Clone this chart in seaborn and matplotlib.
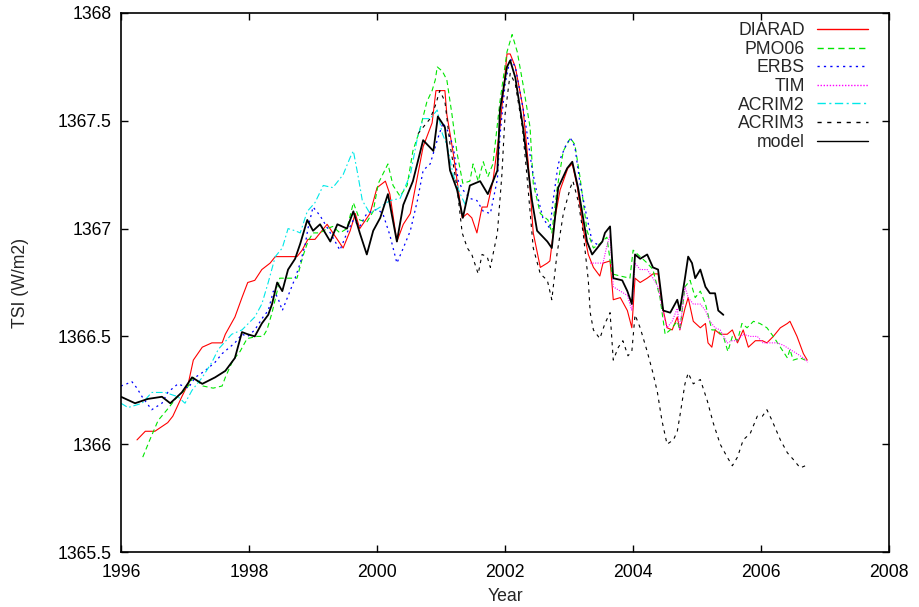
import numpy as np
import pandas as pd
import matplotlib
matplotlib.use('Agg')
import matplotlib.pyplot as plt
import seaborn as sns
from matplotlib.ticker import FuncFormatter, MultipleLocator

# DIARAD
diarad_year = [1996.25, 1996.38, 1996.53, 1996.73, 1996.81, 1996.95, 1997.05, 1997.13, 1997.27, 1997.42,
               1997.58, 1997.63, 1997.78, 1997.89, 1997.98, 1998.09, 1998.20, 1998.33, 1998.41, 1998.75,
               1998.83, 1998.92, 1999.03, 1999.22, 1999.31, 1999.47, 1999.58, 1999.66, 1999.73, 1999.89,
               2000.00, 2000.13, 2000.20, 2000.31, 2000.41, 2000.52, 2000.63, 2000.72, 2000.86, 2000.92,
               2001.06, 2001.09, 2001.19, 2001.27, 2001.33, 2001.41, 2001.48, 2001.56, 2001.64, 2001.72,
               2001.81, 2001.92, 2002.03, 2002.08, 2002.16, 2002.28, 2002.36, 2002.44, 2002.55, 2002.66,
               2002.70, 2002.78, 2002.86, 2002.98, 2003.05, 2003.13, 2003.22, 2003.30, 2003.38, 2003.48,
               2003.53, 2003.64, 2003.69, 2003.80, 2003.91, 2003.98, 2004.03, 2004.11, 2004.22, 2004.31,
               2004.39, 2004.45, 2004.53, 2004.61, 2004.69, 2004.73, 2004.81, 2004.86, 2004.94, 2005.05,
               2005.13, 2005.17, 2005.23, 2005.28, 2005.36, 2005.47, 2005.55, 2005.63, 2005.72, 2005.80,
               2005.91, 2006.02, 2006.09, 2006.19, 2006.30, 2006.41, 2006.45, 2006.56, 2006.66, 2006.72]
diarad_tsi = [1366.02, 1366.06, 1366.06, 1366.10, 1366.13, 1366.22, 1366.28, 1366.39, 1366.45, 1366.47,
              1366.47, 1366.51, 1366.59, 1366.68, 1366.75, 1366.76, 1366.81, 1366.84, 1366.87, 1366.87,
              1366.90, 1366.95, 1366.95, 1367.02, 1366.98, 1366.91, 1366.99, 1367.07, 1367.00, 1367.07,
              1367.19, 1367.22, 1367.16, 1366.94, 1367.02, 1367.07, 1367.24, 1367.38, 1367.49, 1367.64,
              1367.64, 1367.53, 1367.35, 1367.18, 1367.05, 1367.07, 1367.05, 1366.98, 1367.10, 1367.10,
              1367.22, 1367.47, 1367.81, 1367.81, 1367.75, 1367.56, 1367.31, 1366.98, 1366.82, 1366.84,
              1366.85, 1367.05, 1367.18, 1367.28, 1367.30, 1367.19, 1367.00, 1366.88, 1366.82, 1366.78,
              1366.84, 1366.85, 1366.67, 1366.68, 1366.62, 1366.54, 1366.77, 1366.75, 1366.77, 1366.79,
              1366.79, 1366.65, 1366.54, 1366.53, 1366.59, 1366.53, 1366.63, 1366.68, 1366.57, 1366.54,
              1366.56, 1366.47, 1366.45, 1366.53, 1366.51, 1366.51, 1366.53, 1366.47, 1366.53, 1366.45,
              1366.48, 1366.48, 1366.47, 1366.50, 1366.54, 1366.56, 1366.57, 1366.50, 1366.42, 1366.39]

# PMO06
pmo_year = [1996.34, 1996.45, 1996.58, 1996.72, 1996.88, 1997.03, 1997.13, 1997.28, 1997.44, 1997.58,
            1997.63, 1997.75, 1997.86, 1997.97, 1998.13, 1998.22, 1998.28, 1998.36, 1998.44, 1998.48,
            1998.75, 1998.84, 1998.92, 1999.00, 1999.11, 1999.22, 1999.31, 1999.42, 1999.53, 1999.63,
            1999.73, 1999.84, 1999.94, 2000.02, 2000.17, 2000.25, 2000.36, 2000.47, 2000.56, 2000.67,
            2000.78, 2000.86, 2000.91, 2000.94, 2001.02, 2001.09, 2001.17, 2001.25, 2001.34, 2001.45,
            2001.50, 2001.58, 2001.66, 2001.73, 2001.81, 2001.92, 2002.03, 2002.11, 2002.19, 2002.28,
            2002.39, 2002.44, 2002.55, 2002.67, 2002.73, 2002.81, 2002.91, 2003.02, 2003.09, 2003.17,
            2003.28, 2003.38, 2003.48, 2003.59, 2003.67, 2003.80, 2003.95, 2004.00, 2004.11, 2004.22,
            2004.31, 2004.42, 2004.50, 2004.58, 2004.69, 2004.73, 2004.81, 2004.89, 2004.97, 2005.05,
            2005.13, 2005.23, 2005.31, 2005.41, 2005.48, 2005.55, 2005.63, 2005.70, 2005.78, 2005.88,
            2005.98, 2006.09, 2006.19, 2006.30, 2006.41, 2006.45, 2006.50, 2006.61, 2006.69]
pmo_tsi = [1365.94, 1366.02, 1366.11, 1366.16, 1366.22, 1366.26, 1366.31, 1366.27, 1366.26, 1366.27,
           1366.31, 1366.39, 1366.43, 1366.49, 1366.50, 1366.50, 1366.53, 1366.61, 1366.71, 1366.77,
           1366.77, 1366.87, 1366.94, 1366.98, 1366.98, 1367.00, 1367.01, 1366.98, 1367.00, 1367.12,
           1367.04, 1367.03, 1367.08, 1367.21, 1367.30, 1367.20, 1367.15, 1367.20, 1367.36, 1367.46,
           1367.59, 1367.64, 1367.69, 1367.75, 1367.73, 1367.69, 1367.53, 1367.35, 1367.21, 1367.22,
           1367.30, 1367.22, 1367.31, 1367.24, 1367.30, 1367.59, 1367.82, 1367.90, 1367.82, 1367.67,
           1367.47, 1367.21, 1367.07, 1367.04, 1366.98, 1367.18, 1367.36, 1367.42, 1367.39, 1367.24,
           1366.99, 1366.91, 1366.93, 1366.96, 1366.79, 1366.78, 1366.77, 1366.90, 1366.87, 1366.84,
           1366.81, 1366.68, 1366.51, 1366.53, 1366.57, 1366.53, 1366.73, 1366.76, 1366.68, 1366.71,
           1366.65, 1366.53, 1366.53, 1366.50, 1366.43, 1366.50, 1366.48, 1366.56, 1366.54, 1366.57,
           1366.56, 1366.54, 1366.50, 1366.45, 1366.40, 1366.44, 1366.39, 1366.40, 1366.39]

# ERBS
erbs_year = [1996.00, 1996.09, 1996.17, 1996.25, 1996.33, 1996.48, 1996.64, 1996.73, 1996.89, 1997.05,
             1997.16, 1997.31, 1997.47, 1997.58, 1997.78, 1997.89, 1997.98, 1998.09, 1998.22, 1998.30,
             1998.38, 1998.45, 1998.52, 1998.56, 1998.72, 1998.80, 1998.88, 1998.92, 1999.00, 1999.11,
             1999.27, 1999.42, 1999.53, 1999.63, 1999.73, 1999.84, 2000.00, 2000.09, 2000.20, 2000.31,
             2000.41, 2000.52, 2000.63, 2000.72, 2000.83, 2000.94, 2001.03, 2001.11, 2001.19, 2001.27,
             2001.34, 2001.45, 2001.56, 2001.66, 2001.77, 2001.88, 2001.92, 2002.00, 2002.08, 2002.16,
             2002.23, 2002.31, 2002.42, 2002.50, 2002.59, 2002.70, 2002.75, 2002.83, 2002.94, 2003.02,
             2003.09, 2003.17, 2003.28, 2003.36, 2003.48]
erbs_tsi = [1366.27, 1366.28, 1366.29, 1366.26, 1366.22, 1366.16, 1366.19, 1366.24, 1366.28, 1366.26,
            1366.31, 1366.34, 1366.38, 1366.42, 1366.47, 1366.51, 1366.50, 1366.53, 1366.59, 1366.62,
            1366.71, 1366.68, 1366.62, 1366.65, 1366.77, 1366.84, 1366.93, 1367.00, 1367.10, 1367.06,
            1366.98, 1366.90, 1366.98, 1367.04, 1367.01, 1367.07, 1367.09, 1367.07, 1366.97, 1366.84,
            1366.91, 1366.99, 1367.13, 1367.27, 1367.30, 1367.41, 1367.49, 1367.45, 1367.38, 1367.22,
            1367.18, 1367.14, 1367.13, 1367.08, 1367.07, 1367.23, 1367.43, 1367.67, 1367.79, 1367.75,
            1367.64, 1367.51, 1367.28, 1367.16, 1367.05, 1367.00, 1367.13, 1367.30, 1367.38, 1367.42,
            1367.38, 1367.21, 1367.05, 1366.94, 1366.92]

# TIM
tim_year = [2003.33, 2003.44, 2003.53, 2003.59, 2003.64, 2003.69, 2003.80, 2003.91, 2003.98, 2004.03,
            2004.11, 2004.22, 2004.31, 2004.39, 2004.47, 2004.53, 2004.61, 2004.69, 2004.73, 2004.81,
            2004.86, 2004.94, 2005.05, 2005.13, 2005.20, 2005.28, 2005.36, 2005.47, 2005.55, 2005.63,
            2005.72, 2005.83, 2005.94, 2006.03, 2006.14, 2006.25, 2006.34, 2006.45, 2006.56, 2006.66,
            2006.73]
tim_tsi = [1366.84, 1366.84, 1366.84, 1366.92, 1366.97, 1366.73, 1366.71, 1366.69, 1366.62, 1366.84,
           1366.81, 1366.81, 1366.77, 1366.73, 1366.61, 1366.54, 1366.57, 1366.63, 1366.53, 1366.73,
           1366.68, 1366.65, 1366.65, 1366.62, 1366.57, 1366.54, 1366.53, 1366.47, 1366.48, 1366.48,
           1366.51, 1366.50, 1366.50, 1366.47, 1366.47, 1366.47, 1366.46, 1366.44, 1366.42, 1366.40,
           1366.38]

# ACRIM2
acrim2_year = [1996.00, 1996.11, 1996.22, 1996.33, 1996.48, 1996.69, 1996.89, 1997.00, 1997.11, 1997.27,
               1997.42, 1997.52, 1997.73, 1997.89, 1998.09, 1998.20, 1998.30, 1998.41, 1998.52, 1998.61,
               1998.72, 1998.80, 1998.91, 1999.03, 1999.16, 1999.31, 1999.47, 1999.58, 1999.63, 1999.70,
               1999.77, 1999.89, 2000.05, 2000.20, 2000.36, 2000.52, 2000.63, 2000.72, 2000.83, 2000.94,
               2001.02, 2001.09, 2001.19, 2001.30, 2001.38]
acrim2_tsi = [1366.19, 1366.17, 1366.18, 1366.19, 1366.24, 1366.24, 1366.22, 1366.19, 1366.25, 1366.31,
              1366.38, 1366.44, 1366.51, 1366.53, 1366.59, 1366.65, 1366.75, 1366.87, 1366.91, 1367.00,
              1366.99, 1366.98, 1367.08, 1367.12, 1367.20, 1367.19, 1367.25, 1367.33, 1367.36, 1367.25,
              1367.13, 1367.07, 1367.10, 1367.13, 1367.14, 1367.25, 1367.42, 1367.51, 1367.51, 1367.55,
              1367.44, 1367.39, 1367.25, 1367.16, 1367.11]

# ACRIM3
acrim3_year = [2000.64, 2000.72, 2000.83, 2000.91, 2000.98, 2001.06, 2001.14, 2001.25, 2001.33, 2001.41,
               2001.48, 2001.58, 2001.64, 2001.72, 2001.77, 2001.88, 2001.95, 2002.00, 2002.08, 2002.16,
               2002.27, 2002.34, 2002.44, 2002.55, 2002.66, 2002.73, 2002.81, 2002.91, 2003.02, 2003.06,
               2003.14, 2003.22, 2003.30, 2003.33, 2003.38, 2003.48, 2003.56, 2003.64, 2003.69, 2003.77,
               2003.84, 2003.92, 2003.98, 2004.03, 2004.11, 2004.22, 2004.31, 2004.38, 2004.45, 2004.53,
               2004.63, 2004.69, 2004.73, 2004.81, 2004.86, 2004.94, 2005.05, 2005.16, 2005.25, 2005.36,
               2005.47, 2005.55, 2005.63, 2005.72, 2005.83, 2005.94, 2006.02, 2006.09, 2006.17, 2006.30,
               2006.41, 2006.50, 2006.61, 2006.69, 2006.73]
acrim3_tsi = [1367.44, 1367.47, 1367.51, 1367.57, 1367.64, 1367.59, 1367.39, 1367.19, 1366.98, 1366.91,
              1366.88, 1366.79, 1366.88, 1366.87, 1366.82, 1366.98, 1367.25, 1367.53, 1367.72, 1367.67,
              1367.47, 1367.25, 1366.91, 1366.79, 1366.76, 1366.67, 1366.88, 1367.07, 1367.19, 1367.22,
              1367.13, 1366.98, 1366.76, 1366.61, 1366.53, 1366.49, 1366.56, 1366.61, 1366.39, 1366.45,
              1366.48, 1366.41, 1366.43, 1366.60, 1366.54, 1366.43, 1366.33, 1366.24, 1366.11, 1366.00,
              1366.02, 1366.06, 1366.13, 1366.28, 1366.33, 1366.28, 1366.30, 1366.20, 1366.10, 1366.00,
              1365.94, 1365.90, 1365.94, 1366.02, 1366.05, 1366.13, 1366.13, 1366.16, 1366.11, 1366.02,
              1365.96, 1365.93, 1365.89, 1365.90, 1365.91]

# model
model_year = [1996.00, 1996.22, 1996.42, 1996.64, 1996.77, 1996.95, 1997.11, 1997.27, 1997.47, 1997.63,
              1997.78, 1997.89, 1997.98, 1998.09, 1998.20, 1998.30, 1998.36, 1998.44, 1998.52, 1998.61,
              1998.72, 1998.80, 1998.91, 1999.00, 1999.11, 1999.27, 1999.38, 1999.53, 1999.63, 1999.73,
              1999.84, 1999.94, 2000.05, 2000.17, 2000.31, 2000.41, 2000.56, 2000.72, 2000.88, 2000.95,
              2001.06, 2001.14, 2001.25, 2001.34, 2001.45, 2001.61, 2001.73, 2001.88, 2001.92, 2002.03,
              2002.08, 2002.16, 2002.28, 2002.42, 2002.50, 2002.66, 2002.73, 2002.83, 2002.97, 2003.05,
              2003.14, 2003.28, 2003.36, 2003.52, 2003.56, 2003.64, 2003.69, 2003.83, 2003.91, 2003.98,
              2004.03, 2004.11, 2004.22, 2004.31, 2004.39, 2004.47, 2004.58, 2004.69, 2004.73, 2004.81,
              2004.86, 2004.92, 2004.97, 2005.05, 2005.13, 2005.20, 2005.28, 2005.33, 2005.41]
model_tsi = [1366.22, 1366.19, 1366.21, 1366.22, 1366.19, 1366.24, 1366.31, 1366.28, 1366.31, 1366.34,
             1366.40, 1366.52, 1366.51, 1366.50, 1366.56, 1366.60, 1366.65, 1366.75, 1366.71, 1366.81,
             1366.86, 1366.93, 1367.04, 1366.99, 1367.02, 1366.94, 1367.02, 1367.00, 1367.08, 1366.98,
             1366.88, 1366.99, 1367.05, 1367.16, 1366.94, 1367.11, 1367.22, 1367.41, 1367.36, 1367.52,
             1367.47, 1367.27, 1367.18, 1367.05, 1367.20, 1367.22, 1367.16, 1367.27, 1367.55, 1367.75,
             1367.78, 1367.70, 1367.47, 1367.13, 1366.99, 1366.94, 1366.91, 1367.19, 1367.28, 1367.31,
             1367.19, 1366.94, 1366.88, 1366.94, 1366.98, 1367.01, 1366.77, 1366.76, 1366.71, 1366.65,
             1366.88, 1366.86, 1366.88, 1366.82, 1366.81, 1366.62, 1366.61, 1366.67, 1366.62, 1366.77,
             1366.87, 1366.84, 1366.77, 1366.81, 1366.73, 1366.70, 1366.70, 1366.62, 1366.60]


def main():
    sns.set_style('ticks')
    plt.rcParams['font.family'] = ['Liberation Sans', 'DejaVu Sans']
    fs = 12.7

    fig = plt.figure(figsize=(9.2, 6.07), dpi=100)
    ax = fig.add_axes([0.1315, 0.0906, 0.835, 0.888])

    series = [
        ('DIARAD', diarad_year, diarad_tsi, '#ff0000', None, 0.8),
        ('PMO06', pmo_year, pmo_tsi, '#00e600', (4.5, 3), 0.8),
        ('ERBS', erbs_year, erbs_tsi, '#0000ff', (1.6, 3), 0.9),
        ('TIM', tim_year, tim_tsi, '#ff00ff', (1, 1.2), 0.8),
        ('ACRIM2', acrim2_year, acrim2_tsi, '#00e8e8', (6, 2.5, 1.5, 2.5), 0.8),
        ('ACRIM3', acrim3_year, acrim3_tsi, '#000000', (3, 4), 0.8),
        ('model', model_year, model_tsi, '#000000', None, 1.3),
    ]
    for name, yr, tsi, col, dash, lw in series:
        df = pd.DataFrame({'year': yr, 'tsi': tsi})
        sns.lineplot(data=df, x='year', y='tsi', ax=ax, color=col, lw=lw,
                     label=name, estimator=None)
        if dash is not None:
            ax.lines[-1].set_dashes(dash)

    ax.set_xlim(1996, 2008)
    ax.set_ylim(1365.5, 1368)
    ax.xaxis.set_major_locator(MultipleLocator(2))
    ax.yaxis.set_major_locator(MultipleLocator(0.5))
    ax.yaxis.set_major_formatter(FuncFormatter(lambda v, p: '%g' % v))
    ax.tick_params(direction='in', length=5, width=1, top=True, right=True,
                   labelsize=fs, colors='black')
    ax.tick_params(axis='x', pad=8.5)
    ax.tick_params(axis='y', pad=7)
    for s in ax.spines.values():
        s.set_linewidth(1.2)
        s.set_color('black')
    ax.set_xlabel('Year', fontsize=fs, labelpad=5)
    ax.set_ylabel('TSI (W/m2)', fontsize=fs, labelpad=20)

    # gnuplot-style key: label then sample, right-aligned, no box
    leg = ax.legend(loc='upper right', bbox_to_anchor=(0.9727, 0.983),
                    frameon=False, markerfirst=False, fontsize=fs,
                    handlelength=2.9, handletextpad=0.7, labelspacing=0.09,
                    borderaxespad=0, borderpad=0)
    for h in leg.get_lines():
        h.set_linewidth(1.0)

    fig.savefig('out.png', dpi=100)


if __name__ == "__main__":
    main()
